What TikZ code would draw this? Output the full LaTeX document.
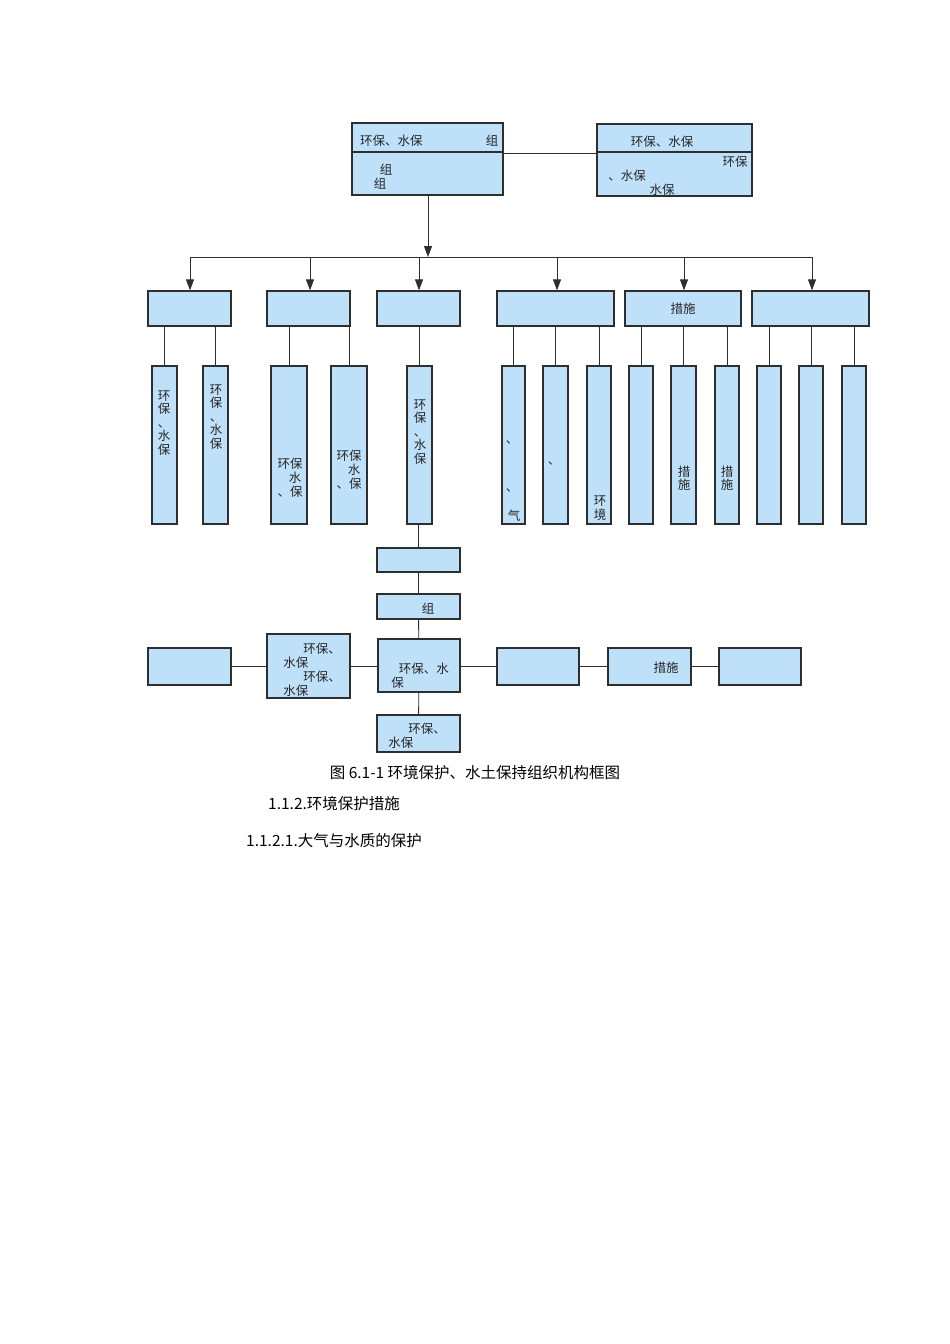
\documentclass[tikz,border=0pt]{standalone}
\usepackage{fontspec}
\setmainfont{Noto Sans CJK SC}
\usetikzlibrary{arrows.meta}
\definecolor{bfill}{HTML}{BFE0F9}
\definecolor{bline}{HTML}{2E2E2E}
\tikzset{
  bx/.style={draw=bline,fill=bfill,line width=1.3pt,inner sep=0pt,rectangle},
  ln/.style={draw=bline,line width=0.9pt},
  ar/.style={ln,-{Triangle[length=11pt,width=8pt]}},
  tx/.style={inner sep=0pt,font=\fontsize{12.5}{14}\selectfont,text=black!85},
  vt/.style={tx,align=center,font=\fontsize{12.5}{13.5}\selectfont},
}
\newcommand{\mkbox}[5]{\node[bx,minimum width={(#4-#2)*1pt},minimum height={(#5-#3)*1pt}] (#1) at ({(#2+#4)/2},{(#3+#5)/2}) {};}
\begin{document}
\begin{tikzpicture}[x=1pt,y=-1pt]
\useasboundingbox (0,0) rectangle (950,1344);
\fill[white] (0,0) rectangle (950,1344);
% top boxes
\mkbox{top}{352}{123}{503}{195}
\draw[ln,line width=1.3pt] (top.west |- 0,152) -- (top.east |- 0,152);
\node[tx,anchor=west] at (360,141) {环保、水保};
\node[tx] at (492,141) {组};
\node[tx] at (386,170) {组};
\node[tx] at (380,184) {组};
\mkbox{tr}{597}{124}{752}{196}
\draw[ln,line width=1.3pt] (tr.west |- 0,152) -- (tr.east |- 0,152);
\node[tx] at (662,142) {环保、水保};
\node[tx] at (735,162) {环保};
\node[tx] at (627,176) {、水保};
\node[tx] at (662,190) {水保};
\draw[ln] (top.east |- 0,153) -- (tr.west |- 0,153);
% bus
\coordinate (bus) at (428,257);
\draw[ar] (top.south -| bus) -- (bus);
\draw[ln] (190,257) -- (812,257);
% level 2
\mkbox{a}{148}{291}{231}{326}
\mkbox{b}{267}{291}{350}{326}
\mkbox{c}{377}{291}{460}{326}
\mkbox{d}{497}{291}{614}{326}
\mkbox{e}{625}{291}{741}{326}
\mkbox{f}{752}{291}{869}{326}
\node[tx] at (e) {措施};
\foreach \n/\x in {a/190,b/310,c/419,d/557,e/684,f/812}
  \draw[ar] (\x,257) -- (\n.north -| \x,0);
% columns
\foreach \n/\p/\l/\r in {a1/a/152/177,a2/a/203/228,b1/b/271/307,b2/b/331/367,c1/c/407/432,
  d1/d/502/525,d2/d/543/568,d3/d/587/611,e1/e/629/653,e2/e/671/696,e3/e/715/739,
  f1/f/757/781,f2/f/799/823,f3/f/842/866}{
  \mkbox{\n}{\l}{366}{\r}{524}
  \draw[ln] (\p.south -| \n) -- (\n.north);
}
\node[vt] at (164,423) {环\\保\\、\\水\\保};
\node[vt] at (216,417) {环\\保\\、\\水\\保};
\node[tx,align=left] at (290,478) {环保\\\hspace*{0.9em}水\\、保};
\node[tx,align=left] at (349,470) {环保\\\hspace*{0.9em}水\\、保};
\node[vt] at (420,432) {环\\保\\、\\水\\保};
\node[tx] at (512,442) {、};
\node[tx] at (512,490) {、};
\node[tx] at (514,516) {气};
\node[tx] at (554,463) {、};
\node[vt] at (600,508) {环\\境};
\node[vt] at (684,478) {措\\施};
\node[vt] at (727,478) {措\\施};
% lower chain
\mkbox{g}{377}{548}{460}{572}
\mkbox{h}{377}{594}{460}{619}
\mkbox{m}{378}{639}{460}{692}
\mkbox{k}{377}{715}{460}{752}
\mkbox{l2}{267}{634}{350}{698}
\mkbox{l1}{148}{648}{231}{685}
\mkbox{r1}{497}{648}{579}{685}
\mkbox{r2}{608}{648}{691}{685}
\mkbox{r3}{719}{648}{801}{685}
\draw[ln] (c1.south -| g) -- (g.north);
\draw[ln] (g) -- (h);
\draw[ln] (h) -- (m);
\draw[ln] (m) -- (k);
\draw[ln] (l1.east) -- (l2.west |- l1.east);
\draw[ln] (l2.east |- l1.east) -- (m.west |- l1.east);
\draw[ln] (m.east |- r1.west) -- (r1.west);
\draw[ln] (r1) -- (r2);
\draw[ln] (r2) -- (r3);
\node[tx] at (428,609) {组};
\node[tx,align=left] at (420,676) {\hspace*{0.6em}环保、水\\保};
\node[tx,align=left] at (417,736) {\hspace*{1.6em}环保、\\水保};
\node[tx,align=left] at (312,670) {\hspace*{1.6em}环保、\\水保\\\hspace*{1.6em}环保、\\水保};
\node[tx] at (666,668) {措施};
% captions
\node[inner sep=0pt,font=\fontsize{15.5}{18}\selectfont] at (475,773) {图 6.1-1 环境保护、水土保持组织机构框图};
\node[inner sep=0pt,anchor=west,font=\fontsize{15.5}{18}\selectfont] at (268,804) {1.1.2.环境保护措施};
\node[inner sep=0pt,anchor=west,font=\fontsize{15.5}{18}\selectfont] at (246,841) {1.1.2.1.大气与水质的保护};
\end{tikzpicture}
\end{document}
